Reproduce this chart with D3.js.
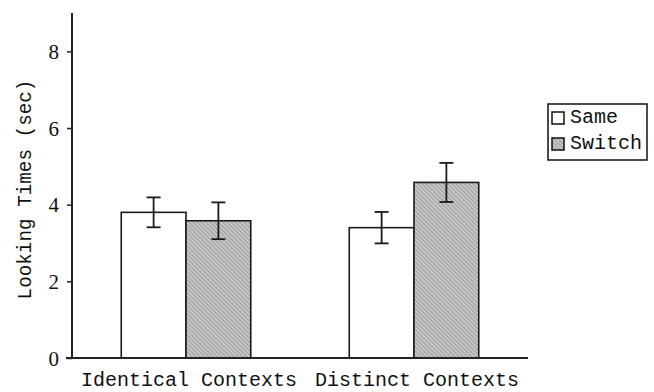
<!DOCTYPE html>
<html>
<head>
<meta charset="utf-8">
<script src="https://cdn.jsdelivr.net/npm/d3@7"></script>
<style>
  body { margin: 0; background: #fff; }
  text { fill: #111; }
</style>
</head>
<body>
<div class="plot"></div>
<script>
// data
const groups = ["Identical Contexts", "Distinct Contexts"];
const series = ["Same", "Switch"];
const sameVals = [3.8, 3.4];
const switchVals = [3.58, 4.58];
const sameErr = [0.39, 0.41];
const switchErr = [0.48, 0.51];
const yTicks = [0, 2, 4, 6, 8];

const data = [];
groups.forEach(function(g, i) {
    data.push({ group: g, series: "Same", value: sameVals[i], err: sameErr[i] });
    data.push({ group: g, series: "Switch", value: switchVals[i], err: switchErr[i] });
});

const width = 654,
    height = 392,
    margin = { top: 13, right: 126, bottom: 34, left: 72 },
    innerWidth = width - margin.left - margin.right,
    innerHeight = height - margin.top - margin.bottom;

const svg = d3.select(".plot").append("svg")
    .attr("width", width)
    .attr("height", height)
    .style("display", "block");

// hatched grey fill
const defs = svg.append("defs");
const pat = defs.append("pattern")
    .attr("id", "hatch")
    .attr("patternUnits", "userSpaceOnUse")
    .attr("width", 3)
    .attr("height", 3)
    .attr("patternTransform", "rotate(-45)");
pat.append("rect").attr("width", 3).attr("height", 3).attr("fill", "#cfcfcf");
pat.append("rect").attr("width", 1.4).attr("height", 3).attr("fill", "#a0a0a0");

const g = svg.append("g")
    .attr("transform", "translate(" + margin.left + "," + margin.top + ")");

const x0 = d3.scaleBand()
    .domain(groups)
    .range([0, innerWidth])
    .padding(0);
const bw = x0.bandwidth();
const x1 = d3.scaleBand()
    .domain(series)
    .range([bw * 0.216, bw * 0.784])
    .padding(0);
const yScale = d3.scaleLinear()
    .domain([0, 9])
    .range([innerHeight, 0]);

const fill = { Same: "#fff", Switch: "url(#hatch)" };

// bars
g.append("g").selectAll("rect")
    .data(data)
    .enter()
    .append("rect")
    .attr("x", function(d) { return x0(d.group) + x1(d.series); })
    .attr("y", function(d) { return yScale(d.value); })
    .attr("width", x1.bandwidth())
    .attr("height", function(d) { return innerHeight - yScale(d.value); })
    .attr("fill", function(d) { return fill[d.series]; })
    .attr("stroke", "#1a1a1a")
    .attr("stroke-width", 1.6);

// error bars
const eb = g.append("g").selectAll("g")
    .data(data)
    .enter()
    .append("g")
    .attr("stroke", "#1a1a1a")
    .attr("stroke-width", 1.8);
const cx = function(d) { return x0(d.group) + x1(d.series) + x1.bandwidth() / 2; };
eb.append("line")
    .attr("x1", cx).attr("x2", cx)
    .attr("y1", function(d) { return yScale(d.value + d.err); })
    .attr("y2", function(d) { return yScale(d.value - d.err); });
eb.append("line")
    .attr("x1", function(d) { return cx(d) - 7; })
    .attr("x2", function(d) { return cx(d) + 7; })
    .attr("y1", function(d) { return yScale(d.value + d.err); })
    .attr("y2", function(d) { return yScale(d.value + d.err); });
eb.append("line")
    .attr("x1", function(d) { return cx(d) - 7; })
    .attr("x2", function(d) { return cx(d) + 7; })
    .attr("y1", function(d) { return yScale(d.value - d.err); })
    .attr("y2", function(d) { return yScale(d.value - d.err); });

// y axis
const yAxis = d3.axisLeft(yScale).tickValues(yTicks).tickSize(5).tickPadding(8);
const ya = g.append("g").call(yAxis);
ya.select(".domain").attr("d", "M0," + innerHeight + "V0").attr("stroke", "#222").attr("stroke-width", 2);
ya.selectAll(".tick line").attr("stroke", "#222").attr("stroke-width", 1.5);
ya.selectAll(".tick text")
    .attr("font-family", "Liberation Serif, Times New Roman, serif")
    .attr("font-size", 21)
    .attr("dy", null)
    .attr("y", 7)
    .attr("fill", "#111");

// x axis
const xAxis = d3.axisBottom(x0).tickSize(0).tickPadding(0);
const xa = g.append("g")
    .attr("transform", "translate(0," + innerHeight + ")")
    .call(xAxis);
xa.select(".domain").attr("d", "M-6,0H" + innerWidth).attr("stroke", "#222").attr("stroke-width", 2);
xa.selectAll(".tick text")
    .attr("font-family", "Liberation Mono, Courier New, monospace")
    .attr("font-size", 20)
    .attr("y", 28)
    .attr("dy", null)
    .attr("dx", null)
    .attr("x", 3)
    .attr("fill", "#111");

// y label
svg.append("text")
    .attr("transform", "translate(31," + (margin.top + innerHeight / 2 + 4) + ") rotate(-90)")
    .attr("text-anchor", "middle")
    .attr("font-family", "Liberation Mono, Courier New, monospace")
    .attr("font-size", 19.3)
    .text("Looking Times (sec)");

// legend
const legend = svg.append("g").attr("transform", "translate(548,104)");
legend.append("rect")
    .attr("width", 99)
    .attr("height", 56)
    .attr("fill", "#fff")
    .attr("stroke", "#111")
    .attr("stroke-width", 1.5);
const li = legend.selectAll("g.item")
    .data(series)
    .enter()
    .append("g")
    .attr("class", "item")
    .attr("transform", function(d, i) { return "translate(4," + (8 + i * 26) + ")"; });
li.append("rect")
    .attr("width", 12)
    .attr("height", 12)
    .attr("fill", function(d) { return fill[d]; })
    .attr("stroke", "#111")
    .attr("stroke-width", 1.5);
li.append("text")
    .attr("x", 18)
    .attr("y", 11)
    .attr("font-family", "Liberation Mono, Courier New, monospace")
    .attr("font-size", 20)
    .text(function(d) { return d; });
</script>
</body>
</html>
